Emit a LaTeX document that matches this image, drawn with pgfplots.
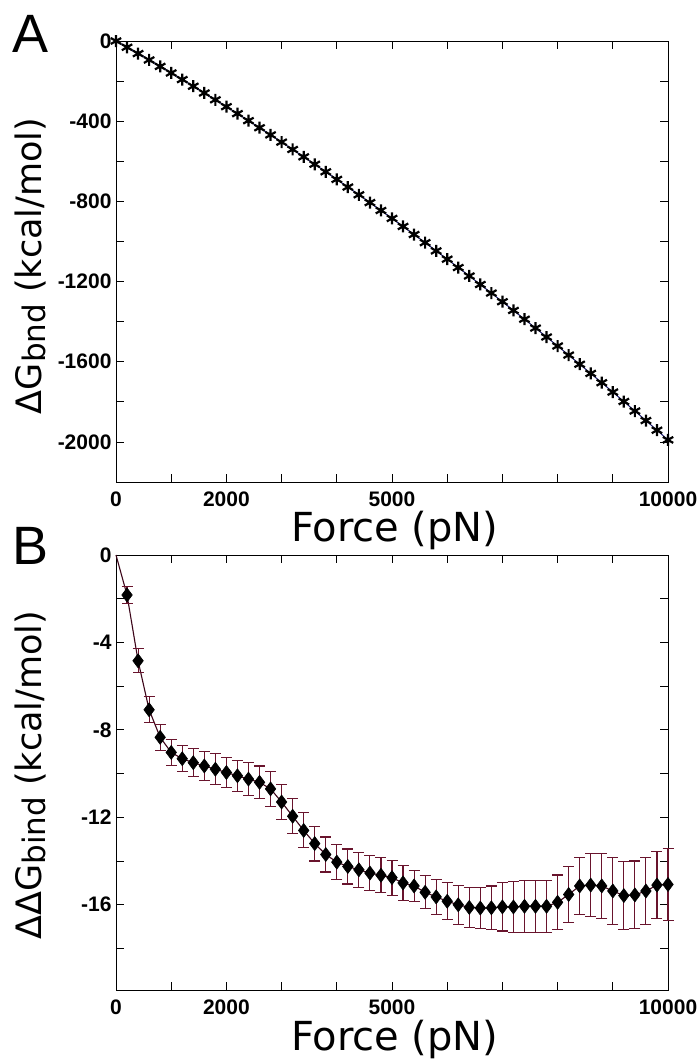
\documentclass[border=0pt]{standalone}
\usepackage{fontspec}
\setmainfont{Liberation Sans}
\newfontfamily\dejavu{DejaVu Sans}
\usepackage{pgfplots}
\usepackage{pgfplotstable}
\pgfplotsset{compat=1.18}
\definecolor{lineA}{RGB}{25,25,110}
\definecolor{lineB}{RGB}{60,5,25}
\definecolor{errc}{RGB}{105,20,45}

\pgfplotstableread{
F G
0 0
200 -31.2
400 -62.7
600 -94.6
800 -126.8
1000 -159.4
1200 -192.3
1400 -225.6
1600 -259.3
1800 -293.3
2000 -327.6
2200 -362.3
2400 -397.3
2600 -432.7
2800 -468.5
3000 -504.6
3200 -541.1
3400 -577.9
3600 -615.0
3800 -652.5
4000 -690.4
4200 -728.6
4400 -767.2
4600 -806.1
4800 -845.4
5000 -885.0
5200 -925.0
5400 -965.3
5600 -1006.0
5800 -1047.0
6000 -1088.4
6200 -1130.1
6400 -1172.2
6600 -1214.7
6800 -1257.5
7000 -1300.6
7200 -1344.1
7400 -1387.9
7600 -1432.1
7800 -1476.7
8000 -1521.6
8200 -1566.9
8400 -1612.5
8600 -1658.4
8800 -1704.7
9000 -1751.4
9200 -1798.4
9400 -1845.8
9600 -1893.5
9800 -1941.6
10000 -1990.0
}\dataA

\pgfplotstableread{
F G E
200 -1.83 0.37
400 -4.84 0.55
600 -7.08 0.60
800 -8.34 0.60
1000 -9.03 0.60
1200 -9.32 0.60
1400 -9.50 0.65
1600 -9.65 0.65
1800 -9.80 0.70
2000 -9.95 0.70
2200 -10.10 0.70
2400 -10.25 0.75
2600 -10.40 0.75
2800 -10.70 0.80
3000 -11.30 0.80
3200 -11.95 0.80
3400 -12.60 0.80
3600 -13.20 0.80
3800 -13.70 0.80
4000 -14.05 0.80
4200 -14.25 0.80
4400 -14.40 0.80
4600 -14.55 0.80
4800 -14.65 0.80
5000 -14.76 0.80
5200 -15.00 0.80
5400 -15.14 0.70
5600 -15.43 0.75
5800 -15.64 0.80
6000 -15.84 0.85
6200 -16.00 0.90
6400 -16.12 0.90
6600 -16.15 0.95
6800 -16.14 1.00
7000 -16.10 1.10
7200 -16.10 1.15
7400 -16.07 1.20
7600 -16.07 1.20
7800 -16.07 1.20
8000 -15.89 1.25
8200 -15.53 1.30
8400 -15.14 1.32
8600 -15.10 1.45
8800 -15.14 1.47
9000 -15.37 1.55
9200 -15.58 1.55
9400 -15.55 1.55
9600 -15.37 1.55
9800 -15.10 1.52
10000 -15.07 1.65
}\dataB

\pgfplotsset{
  panel/.style={
    scale only axis, width=552pt,
    xmin=0, xmax=10000,
    scaled x ticks=false, scaled y ticks=false,
    xtick={0,1000,...,10000},
    xticklabels={0,,2000,,,5000,,,,,10000},
    tick pos=both, tick align=inside,
    major tick length=8pt,
    axis line style={line width=0.9pt},
    every tick/.style={black, line width=0.8pt},
    ticklabel style={font=\bfseries\fontsize{21}{21}\selectfont},
    xticklabel style={yshift=-6pt},
    yticklabel style={xshift=-1pt},
    label style={font=\dejavu\fontsize{40}{40}\selectfont},
    ylabel style={font=\dejavu\fontsize{35}{35}\selectfont},
    clip=false,
  }
}

\begin{document}
\begin{tikzpicture}
\useasboundingbox (0pt,0pt) rectangle (696pt,-1059pt);
\node[font=\fontsize{54}{54}\selectfont] at (31pt,-34pt) {A};
\node[font=\fontsize{54}{54}\selectfont] at (31pt,-546pt) {B};

\begin{axis}[panel,
  at={(116pt,-482pt)}, anchor=south west,
  height=441pt,
  ymin=-2200, ymax=0,
  ytick={-2200,-2000,...,0},
  yticklabels={,-2000,,-1600,,-1200,,-800,,-400,,0},
  xlabel={Force (pN)},
  xlabel style={at={(axis description cs:0.505,-0.11)}, anchor=center},
  ylabel={ΔG\raisebox{-0.2ex}{\fontsize{31}{31}\selectfont bnd} (kcal/mol)},
  ylabel style={at={(axis description cs:-0.155,0.49)}, anchor=center},
]
\addplot[color=lineA, line width=1pt, mark=asterisk, mark size=6pt,
  mark options={black, line width=2.2pt}] table[x=F, y=G] {\dataA};
\end{axis}

\begin{axis}[panel,
  at={(116pt,-990pt)}, anchor=south west,
  height=435pt,
  ymin=-19.9, ymax=0,
  ytick={-18,-16,...,0},
  yticklabels={,-16,,-12,,-8,,-4,,0},
  xlabel={Force (pN)},
  xlabel style={at={(axis description cs:0.505,-0.113)}, anchor=center},
  ylabel={ΔΔG\raisebox{-0.2ex}{\fontsize{31}{31}\selectfont bind} (kcal/mol)},
  ylabel style={at={(axis description cs:-0.155,0.494)}, anchor=center},
]
\addplot[color=lineB, line width=1.1pt] table[x=F, y=G] {\dataB};
\addplot[color=lineB, line width=1.1pt] coordinates {(0,0) (200,-1.83)};
\addplot[only marks, mark=diamond*, mark size=7pt,
  mark options={fill=black, draw=black, line width=0.6pt},
  error bars/.cd, y dir=both, y explicit,
  error bar style={color=errc, line width=1.1pt},
  error mark options={rotate=90, mark size=5.5pt, color=errc, line width=1.1pt}]
  table[x=F, y=G, y error=E] {\dataB};
\end{axis}
\end{tikzpicture}
\end{document}
